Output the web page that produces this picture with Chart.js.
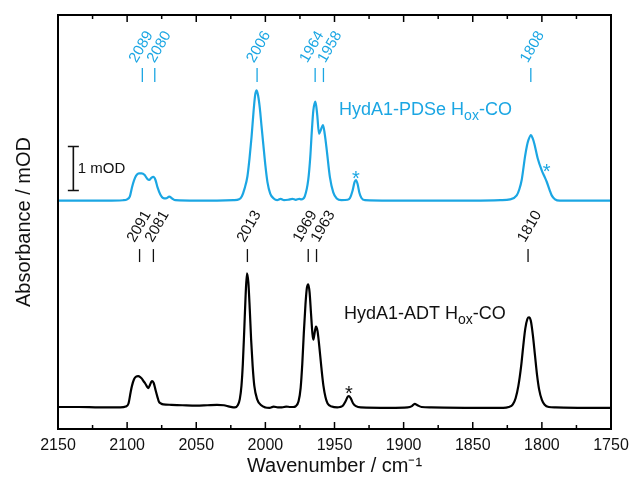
<!DOCTYPE html>
<html>
<head>
<meta charset="UTF-8">
<title>HydA1 Hox-CO IR</title>
<script src="https://cdn.jsdelivr.net/npm/chart.js@4"></script>
<style>
  html, body { margin: 0; padding: 0; background: #fff; }
</style>
</head>
<body>
<canvas id="c" width="632" height="478"></canvas>
<script>
// axis ticks (cm-1)
const xMajor = [2150, 2100, 2050, 2000, 1950, 1900, 1850, 1800, 1750];
const xMinor = [2125, 2075, 2025, 1975, 1925, 1875, 1825, 1775];

// HydA1-PDSe Hox-CO (upper, blue): wavenumber / absorbance above its baseline (mOD)
const pdseWn = [2150, 2130, 2115, 2103, 2100, 2098, 2096.5, 2095, 2093.5, 2091.5,
  2089.5, 2087.5, 2085.5, 2084, 2082.5, 2081, 2079.5, 2078, 2076, 2074,
  2072, 2069.5, 2067.5, 2065, 2050, 2035, 2023, 2019, 2017, 2015,
  2013, 2011.5, 2010, 2008.5, 2007.3, 2006.3, 2005.2, 2004, 2002.8, 2001.5,
  2000, 1998.5, 1996.5, 1994, 1991.5, 1989, 1986.5, 1983.5, 1980.5, 1978,
  1975.5, 1974, 1971.5, 1969, 1967.5, 1966.5, 1965.3, 1963.8, 1962.5, 1961.2,
  1960, 1958.3, 1957, 1955.6, 1953.3, 1950.9, 1948.4, 1945, 1940.5, 1938.8,
  1937, 1935.5, 1934.5, 1933.3, 1932, 1930.5, 1928, 1910, 1880, 1850,
  1830, 1823, 1818.2, 1816.3, 1814.6, 1813.3, 1812.2, 1810.8, 1809.8, 1807.9,
  1806.7, 1805.5, 1803, 1800.1, 1798.3, 1796.5, 1794.5, 1792.9, 1790.5, 1787,
  1770, 1750];
const pdseAbs = [0.00, 0.00, 0.00, 0.01, 0.03, 0.10, 0.30, 0.46, 0.57, 0.62,
  0.62, 0.59, 0.50, 0.47, 0.52, 0.54, 0.47, 0.30, 0.14, 0.06,
  0.05, 0.09, 0.05, 0.01, 0.00, 0.00, 0.01, 0.03, 0.10, 0.28,
  0.55, 0.95, 1.45, 2.05, 2.42, 2.51, 2.38, 2.10, 1.70, 1.28,
  0.80, 0.42, 0.16, 0.05, 0.01, 0.04, 0.01, 0.02, 0.04, 0.02,
  0.04, 0.03, 0.10, 0.47, 1.00, 1.53, 2.05, 2.25, 1.95, 1.52,
  1.60, 1.72, 1.50, 1.15, 0.53, 0.19, 0.05, 0.01, 0.02, 0.06,
  0.22, 0.42, 0.47, 0.38, 0.18, 0.06, 0.01, 0.00, 0.00, 0.00,
  0.01, 0.03, 0.12, 0.26, 0.47, 0.75, 1.00, 1.25, 1.37, 1.49,
  1.42, 1.30, 0.96, 0.69, 0.56, 0.43, 0.25, 0.12, 0.03, 0.00,
  0.00, 0.00];
const pdseBase = 5.19;
const pdsePeaks = [2089, 2080, 2006, 1964, 1958, 1808];
const pdseStarWn = [1934.5, 1796.5];
const pdseStarAbs = [5.81, 5.96];

// HydA1-ADT Hox-CO (lower, black)
const adtWn = [2150, 2135, 2120, 2105, 2101, 2099, 2097.5, 2096.5, 2095, 2093.5,
  2092, 2090.5, 2089.5, 2088, 2087, 2085.5, 2084.7, 2083.5, 2082.5, 2081.8,
  2080.7, 2079.4, 2078, 2077, 2075.5, 2073.8, 2068, 2060, 2050, 2042,
  2035, 2030, 2026, 2022, 2020, 2018.5, 2017.3, 2016.3, 2015.3, 2014.3,
  2013.3, 2012.3, 2011.3, 2010.3, 2009.2, 2008, 2006, 2003, 2000, 1997,
  1994, 1991, 1988, 1985, 1982, 1980, 1978, 1976, 1974.5, 1973.3,
  1972.2, 1971, 1970, 1969, 1968, 1967, 1966, 1965.3, 1964.3, 1963.4,
  1962.3, 1961, 1959.5, 1958, 1956.5, 1955, 1952, 1948, 1946, 1944,
  1942, 1940.5, 1939.5, 1938, 1936.5, 1934.5, 1931, 1910, 1897, 1894,
  1892, 1890, 1887, 1880, 1850, 1828, 1824, 1821, 1819, 1817,
  1815, 1813.5, 1812, 1810.5, 1809.3, 1808, 1806.5, 1805, 1803.5, 1802,
  1800, 1798, 1795, 1790, 1770, 1750];
const adtAbs = [0.02, 0.02, 0.01, 0.01, 0.03, 0.10, 0.35, 0.50, 0.65, 0.71,
  0.72, 0.70, 0.67, 0.60, 0.56, 0.48, 0.45, 0.52, 0.59, 0.61,
  0.56, 0.40, 0.24, 0.14, 0.10, 0.08, 0.07, 0.06, 0.05, 0.06,
  0.07, 0.06, 0.03, 0.01, 0.06, 0.20, 0.50, 1.00, 1.75, 2.55,
  3.06, 2.85, 2.25, 1.55, 0.95, 0.50, 0.20, 0.06, 0.01, 0.00,
  0.03, 0.01, 0.01, 0.03, 0.02, 0.02, 0.04, 0.15, 0.45, 1.00,
  1.70, 2.35, 2.72, 2.81, 2.62, 2.15, 1.70, 1.55, 1.72, 1.85,
  1.75, 1.40, 0.92, 0.50, 0.24, 0.10, 0.03, 0.01, 0.02, 0.05,
  0.15, 0.25, 0.27, 0.20, 0.10, 0.04, 0.01, 0.00, 0.01, 0.04,
  0.09, 0.06, 0.02, 0.01, 0.00, 0.00, 0.02, 0.08, 0.22, 0.50,
  0.95, 1.40, 1.80, 2.02, 2.06, 1.98, 1.65, 1.20, 0.75, 0.42,
  0.18, 0.07, 0.02, 0.01, 0.00, 0.00];
const adtBase = 0.48;
const adtPeaks = [2091, 2081, 2013, 1969, 1963, 1810];
const adtStarWn = [1939.5];
const adtStarAbs = [0.925];

const BLUE = '#1ba6e3';
const INK = '#111';
const FONT = '"Liberation Sans", Arial, Helvetica, sans-serif';

function toPoints(wn, abs, base) {
  return wn.map((w, i) => ({ x: w, y: abs[i] + base }));
}

// keep rotated labels of close peaks apart
function spreadLabels(px, gap) {
  const out = px.map(p => p - 3);
  for (let i = 0; i < out.length - 1; i++) {
    if (out[i + 1] - out[i] < gap) {
      const c = (out[i] + out[i + 1]) / 2;
      out[i] = c - gap / 2;
      out[i + 1] = c + gap / 2;
    }
  }
  return out;
}

function drawMarks(ctx, x, y, peaks, color, tickLo, tickHi, textBase) {
  const px = peaks.map(v => x.getPixelForValue(v));
  const lx = spreadLabels(px, 18);
  ctx.strokeStyle = color;
  ctx.fillStyle = color;
  ctx.lineWidth = 1.3;
  ctx.font = '15px ' + FONT;
  px.forEach((p, i) => {
    ctx.beginPath();
    ctx.moveTo(p, y.getPixelForValue(tickLo));
    ctx.lineTo(p, y.getPixelForValue(tickHi));
    ctx.stroke();
    ctx.save();
    ctx.translate(lx[i], y.getPixelForValue(textBase));
    ctx.rotate(-Math.PI / 3);
    ctx.textAlign = 'left';
    ctx.textBaseline = 'alphabetic';
    ctx.fillText(String(peaks[i]), 0, 0);
    ctx.restore();
  });
}

function drawStars(ctx, x, y, wn, ab, color) {
  ctx.fillStyle = color;
  ctx.font = '20px ' + FONT;
  ctx.textAlign = 'center';
  ctx.textBaseline = 'alphabetic';
  wn.forEach((w, i) => {
    ctx.fillText('*', x.getPixelForValue(w), y.getPixelForValue(ab[i]) + 11.5);
  });
}

function drawName(ctx, px, py, pre, sub, post, color) {
  ctx.fillStyle = color;
  ctx.textAlign = 'left';
  ctx.textBaseline = 'alphabetic';
  ctx.font = '18px ' + FONT;
  ctx.fillText(pre, px, py);
  let w = ctx.measureText(pre).width;
  ctx.font = '14px ' + FONT;
  ctx.fillText(sub, px + w, py + 5);
  w += ctx.measureText(sub).width;
  ctx.font = '18px ' + FONT;
  ctx.fillText(post, px + w, py);
}

const decor = {
  id: 'decor',
  afterDatasetsDraw(chart) {
    const { ctx, chartArea: a, scales: { x, y } } = chart;
    ctx.save();

    // frame + inward ticks top and bottom
    ctx.strokeStyle = '#000';
    ctx.lineWidth = 2;
    ctx.strokeRect(a.left, a.top, a.right - a.left, a.bottom - a.top);
    ctx.lineWidth = 1.5;
    const tick = (v, len) => {
      const p = x.getPixelForValue(v);
      ctx.beginPath();
      ctx.moveTo(p, a.bottom); ctx.lineTo(p, a.bottom - len);
      ctx.moveTo(p, a.top); ctx.lineTo(p, a.top + len);
      ctx.stroke();
    };
    xMajor.slice(1, -1).forEach(v => tick(v, 7));
    xMinor.forEach(v => tick(v, 4));

    // peak positions
    drawMarks(ctx, x, y, pdsePeaks, BLUE, 7.886, 8.205, 8.31);
    drawMarks(ctx, x, y, adtPeaks, INK, 3.795, 4.09, 4.227);

    drawStars(ctx, x, y, pdseStarWn, pdseStarAbs, BLUE);
    drawStars(ctx, x, y, adtStarWn, adtStarAbs, INK);

    // scale bar: 1 mOD
    const bx = x.getPixelForValue(2138.9);
    const b0 = y.getPixelForValue(5.42), b1 = y.getPixelForValue(6.42);
    ctx.strokeStyle = INK;
    ctx.lineWidth = 1.6;
    ctx.beginPath();
    ctx.moveTo(bx, b0); ctx.lineTo(bx, b1);
    ctx.moveTo(bx - 5.5, b0); ctx.lineTo(bx + 5.5, b0);
    ctx.moveTo(bx - 5.5, b1); ctx.lineTo(bx + 5.5, b1);
    ctx.stroke();
    ctx.fillStyle = INK;
    ctx.font = '15px ' + FONT;
    ctx.textAlign = 'left';
    ctx.textBaseline = 'middle';
    ctx.fillText('1 mOD', bx + 4.5, (b0 + b1) / 2);

    drawName(ctx, x.getPixelForValue(1946.7), y.getPixelForValue(7.14), 'HydA1-PDSe H', 'ox', '-CO', BLUE);
    drawName(ctx, x.getPixelForValue(1943.1), y.getPixelForValue(2.49), 'HydA1-ADT H', 'ox', '-CO', INK);

    ctx.restore();
  }
};

new Chart(document.getElementById('c'), {
  type: 'line',
  data: {
    datasets: [
      { label: 'HydA1-PDSe Hox-CO', data: toPoints(pdseWn, pdseAbs, pdseBase),
        borderColor: BLUE, borderWidth: 2.2, pointRadius: 0, cubicInterpolationMode: 'monotone' },
      { label: 'HydA1-ADT Hox-CO', data: toPoints(adtWn, adtAbs, adtBase),
        borderColor: '#000', borderWidth: 2.2, pointRadius: 0, cubicInterpolationMode: 'monotone' }
    ]
  },
  options: {
    responsive: false,
    animation: false,
    devicePixelRatio: 1,
    parsing: false,
    layout: { padding: { top: 15, right: 21, bottom: 0, left: 0 } },
    plugins: { legend: { display: false }, tooltip: { enabled: false } },
    scales: {
      x: {
        type: 'linear', reverse: true, min: 1750, max: 2150,
        afterBuildTicks: s => { s.ticks = xMajor.map(v => ({ value: v })); },
        afterFit: s => { s.height = 49; s.paddingLeft = 0; s.paddingRight = 0; },
        grid: { display: false, drawTicks: false },
        border: { display: false },
        ticks: { color: INK, font: { family: FONT, size: 16 }, padding: 7, maxRotation: 0, autoSkip: false,
                 callback: v => String(v) },
        title: { display: true, text: 'Wavenumber / cm⁻¹', color: INK,
                 font: { family: FONT, size: 20 }, padding: { top: 0, bottom: 0 } }
      },
      y: {
        type: 'linear', min: 0, max: 9.41,
        afterFit: s => { s.width = 58; },
        grid: { display: false, drawTicks: false },
        border: { display: false },
        ticks: { display: false },
        title: { display: true, text: 'Absorbance / mOD', color: INK,
                 font: { family: FONT, size: 20 }, padding: { top: 12, bottom: 0 } }
      }
    }
  },
  plugins: [decor]
});
</script>
</body>
</html>
